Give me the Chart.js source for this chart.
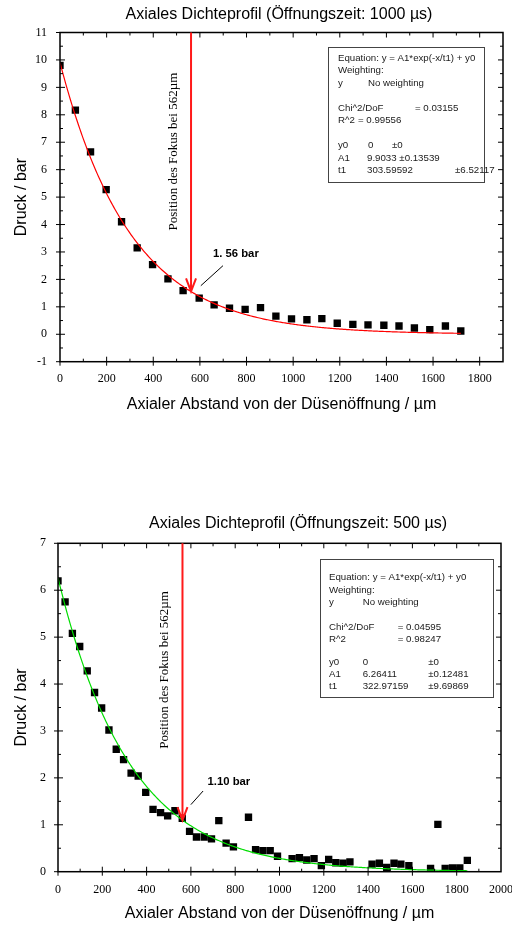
<!DOCTYPE html>
<html>
<head>
<meta charset="utf-8">
<script src="https://cdn.jsdelivr.net/npm/chart.js@4.4.1/dist/chart.umd.min.js"></script>
<style>
  html, body { margin: 0; padding: 0; background: #fff; }
  #wrap { position: relative; width: 512px; height: 927px; overflow: hidden; }
  #c1 { position: absolute; left: 0; top: 0; }
  #c2 { position: absolute; left: 0; top: 470px; }
</style>
</head>
<body>
<div id="wrap">
  <canvas id="c1" width="512" height="470"></canvas>
  <canvas id="c2" width="512" height="457"></canvas>
</div>
<script>
// ---- measured pressure profile, 1000 µs opening time ----
const distance1000 = [0, 66, 131, 198, 264, 331, 397, 463, 528, 597, 661, 727, 794, 860,
  926, 993, 1059, 1123, 1189, 1256, 1321, 1389, 1454, 1520, 1586, 1653, 1719];
const pressure1000 = [9.80, 8.17, 6.65, 5.27, 4.10, 3.15, 2.54, 2.02, 1.59, 1.32, 1.07, 0.95, 0.91, 0.97,
  0.66, 0.56, 0.53, 0.57, 0.40, 0.36, 0.34, 0.33, 0.30, 0.23, 0.17, 0.30, 0.12];

// ---- measured pressure profile, 500 µs opening time ----
const distance500 = [0, 32, 65, 98, 132, 165, 197, 230, 263, 296, 330, 362, 396, 429, 463, 495, 528,
  561, 594, 625, 660, 693, 726, 759, 792, 860, 892, 925, 958, 991, 1057, 1090, 1123, 1156, 1189,
  1222, 1254, 1287, 1318, 1418, 1451, 1484, 1517, 1548, 1584, 1682, 1715, 1748, 1781, 1814, 1848];
const pressure500 = [6.20, 5.75, 5.08, 4.80, 4.28, 3.82, 3.49, 3.02, 2.61, 2.39, 2.10, 2.04, 1.69,
  1.33, 1.26, 1.19, 1.30, 1.14, 0.86, 0.74, 0.74, 0.70, 1.09, 0.61, 0.53, 1.16, 0.47, 0.45, 0.45,
  0.33, 0.28, 0.30, 0.25, 0.28, 0.13, 0.26, 0.19, 0.18, 0.21, 0.16, 0.18, 0.09, 0.18, 0.16, 0.13,
  0.07, 1.01, 0.07, 0.08, 0.08, 0.24];

// ---- exponential fit results: [y0, A1, t1] and their errors ----
const fit1000 = [0, 9.9033, 303.59592];
const fitErr1000 = [0, 0.13539, 6.52117];
const fitStats1000 = [0.03155, 0.99556];   // Chi^2/DoF, R^2
const fit500 = [0, 6.26411, 322.97159];
const fitErr500 = [0, 0.12481, 9.69869];
const fitStats500 = [0.04595, 0.98247];

// ---- focus marker ----
const focusPosition = 562;                 // µm
const focusPressure = [1.56, 1.10];        // bar, 1000 µs / 500 µs
const focusLabels = ['1. 56 bar', '1.10 bar'];

// ---- tick labels ----
const xTicks1000 = [0, 200, 400, 600, 800, 1000, 1200, 1400, 1600, 1800];
const yTicks1000 = [-1, 0, 1, 2, 3, 4, 5, 6, 7, 8, 9, 10, 11];
const xTicks500 = [0, 200, 400, 600, 800, 1000, 1200, 1400, 1600, 1800, 2000];
const yTicks500 = [0, 1, 2, 3, 4, 5, 6, 7];

const SANS = '"Liberation Sans", Arial, Helvetica, sans-serif';
const SERIF = '"Liberation Serif", "Times New Roman", serif';

function fitCurve(p, xEnd) {
  const pts = [];
  for (let x = 0; x <= xEnd; x += 5) pts.push({ x, y: p[1] * Math.exp(-x / p[2]) + p[0] });
  pts.push({ x: xEnd, y: p[1] * Math.exp(-xEnd / p[2]) + p[0] });
  return pts;
}

// Rows of the fit report; "joined" puts value and error into one run of text
function fitBoxRows(p, err, stats, joined) {
  const pe = i => joined ? [String(p[i]) + ' \u00b1' + err[i]] : [String(p[i]), '\u00b1' + err[i]];
  return [
    ['Equation: y = A1*exp(-x/t1) + y0'],
    ['Weighting:'],
    ['y', 'No weighting'],
    null,
    ['Chi^2/DoF', '= ' + stats[0]],
    ['R^2', '= ' + stats[1]],
    null,
    ['y0', String(p[0]), '\u00b1' + err[0]],
    ['A1'].concat(pe(1)),
    ['t1', String(p[2]), '\u00b1' + err[2]]
  ];
}

// Frame, ticks, titles, fit box and focus annotation
const decor = {
  id: 'decor',
  afterDraw(chart, args, o) {
    const ctx = chart.ctx, a = chart.chartArea;
    const xs = chart.scales.x, ys = chart.scales.y;
    ctx.save();

    // ticks (majors cross the left/bottom axes, minors point inward)
    ctx.strokeStyle = '#000';
    ctx.lineWidth = 1;
    ctx.beginPath();
    const mIn = 5, mOut = 4, nIn = 3;
    for (let v = xs.min; v <= xs.max + 1e-9; v += o.xStep / 2) {
      if (v <= xs.min || v >= xs.max) continue;
      const px = xs.getPixelForValue(v);
      const major = Math.abs(v / o.xStep - Math.round(v / o.xStep)) < 1e-6;
      const len = major ? mIn : nIn;
      ctx.moveTo(px, a.bottom + (major ? mOut : 0)); ctx.lineTo(px, a.bottom - len);
      ctx.moveTo(px, a.top); ctx.lineTo(px, a.top + len);
    }
    ctx.moveTo(a.left, a.bottom); ctx.lineTo(a.left, a.bottom + mOut);
    for (let v = ys.min; v <= ys.max + 1e-9; v += 0.5) {
      const py = ys.getPixelForValue(v);
      const major = Math.abs(v - Math.round(v)) < 1e-6;
      const len = major ? mIn : nIn;
      if (v > ys.min && v < ys.max) {
        ctx.moveTo(a.left, py); ctx.lineTo(a.left + len, py);
        ctx.moveTo(a.right, py); ctx.lineTo(a.right - len, py);
      }
      if (major) { ctx.moveTo(a.left - mOut, py); ctx.lineTo(a.left, py); }
    }
    ctx.stroke();

    // frame
    ctx.lineWidth = 1.5;
    ctx.strokeRect(a.left, a.top, a.right - a.left, a.bottom - a.top);

    // chart title and axis titles
    ctx.fillStyle = '#000';
    ctx.font = '16px ' + SANS;
    ctx.textAlign = 'center';
    ctx.textBaseline = 'middle';
    ctx.fillText(o.title, o.titleX, o.titleY);
    ctx.fillText('Axialer Abstand von der D\u00fcsen\u00f6ffnung / \u00b5m', (a.left + a.right) / 2, o.xTitleY);
    ctx.save();
    ctx.translate(22, (a.top + a.bottom) / 2);
    ctx.rotate(-Math.PI / 2);
    ctx.fillText('Druck / bar', 0, 0);
    ctx.restore();

    // fit result box
    const b = o.box;
    ctx.strokeStyle = '#444';
    ctx.lineWidth = 1;
    ctx.strokeRect(b.left + 0.5, b.top + 0.5, b.right - b.left, b.bottom - b.top);
    ctx.fillStyle = '#1a1a1a';
    ctx.font = '9.7px ' + SANS;
    ctx.textAlign = 'left';
    ctx.textBaseline = 'middle';
    o.rows.forEach((row, i) => {
      if (!row) return;
      const y = b.rowY[i];
      row.forEach((txt, j) => {
        ctx.fillText(txt, b.cols[i][j], y);
      });
    });

    // focus arrow
    const fx = xs.getPixelForValue(focusPosition);
    const tipY = ys.getPixelForValue(o.tip);
    ctx.strokeStyle = '#ff1a1a';
    ctx.lineWidth = 2;
    ctx.beginPath();
    ctx.moveTo(fx, a.top);
    ctx.lineTo(fx, tipY - 1);
    ctx.moveTo(fx - 5, tipY - 13);
    ctx.lineTo(fx, tipY);
    ctx.lineTo(fx + 5, tipY - 13);
    ctx.stroke();

    // vertical caption
    ctx.fillStyle = '#000';
    ctx.font = '13px ' + SERIF;
    ctx.textAlign = 'center';
    ctx.save();
    ctx.translate(xs.getPixelForValue(o.capX), ys.getPixelForValue(o.capY));
    ctx.rotate(-Math.PI / 2);
    ctx.fillText('Position des Fokus bei 562\u00b5m', 0, 0);
    ctx.restore();

    // value label with leader line
    ctx.font = 'bold 11.3px ' + SANS;
    ctx.textAlign = 'left';
    ctx.fillText(o.label, xs.getPixelForValue(o.labelX), ys.getPixelForValue(o.labelY));
    ctx.strokeStyle = '#000';
    ctx.lineWidth = 1;
    ctx.beginPath();
    ctx.moveTo(xs.getPixelForValue(o.lead[0]), ys.getPixelForValue(o.lead[1]));
    ctx.lineTo(xs.getPixelForValue(o.lead[2]), ys.getPixelForValue(o.lead[3]));
    ctx.stroke();

    ctx.restore();
  }
};

function makeChart(id, c) {
  const pts = c.xs.map((x, i) => ({ x, y: c.ys[i] }));
  return new Chart(document.getElementById(id), {
    type: 'scatter',
    data: {
      datasets: [
        { data: c.curve, showLine: true, pointRadius: 0, borderColor: c.curveColor,
          borderWidth: 1.2, fill: false, order: 0 },
        { data: pts, pointStyle: 'rect', pointRadius: 5.2, backgroundColor: '#000',
          borderWidth: 0, order: 1 }
      ]
    },
    options: {
      responsive: false,
      animation: false,
      devicePixelRatio: 1,
      layout: { padding: c.padding },
      plugins: {
        legend: { display: false },
        tooltip: { enabled: false },
        title: { display: false },
        decor: c.decor
      },
      scales: {
        x: {
          type: 'linear', min: c.xMin, max: c.xMax,
          grid: { display: false, drawTicks: false },
          border: { display: false },
          ticks: { font: { family: SERIF, size: 12 }, color: '#000', padding: c.xPad,
                   autoSkip: false, maxRotation: 0, callback: v => String(v) },
          afterBuildTicks: s => { s.ticks = c.xTicks.map(v => ({ value: v })); },
          afterFit: s => { s.height = c.xHeight; s.paddingLeft = 0; s.paddingRight = 0; }
        },
        y: {
          type: 'linear', min: c.yMin, max: c.yMax,
          grid: { display: false, drawTicks: false },
          border: { display: false },
          ticks: { font: { family: SERIF, size: 12 }, color: '#000', padding: c.yPad,
                   autoSkip: false, callback: v => String(v) },
          afterBuildTicks: s => { s.ticks = c.yTicks.map(v => ({ value: v })); },
          afterFit: s => { s.width = c.yWidth; s.paddingTop = 0; s.paddingBottom = 0; }
        }
      }
    },
    plugins: [decor]
  });
}

makeChart('c1', {
  xs: distance1000, ys: pressure1000,
  curve: fitCurve(fit1000, distance1000[distance1000.length - 1]),
  curveColor: '#ff0000',
  xMin: 0, xMax: 1900, yMin: -1, yMax: 11,
  xTicks: xTicks1000, yTicks: yTicks1000,
  padding: { left: 0, right: 9, top: 32.5, bottom: 0 },
  xHeight: 108.3, yWidth: 60, xPad: 9.5, yPad: 13,
  decor: {
    title: 'Axiales Dichteprofil (\u00d6ffnungszeit: 1000 \u00b5s)', titleX: 279, titleY: 15,
    xTitleY: 405, xStep: 200,
    rows: fitBoxRows(fit1000, fitErr1000, fitStats1000, true),
    box: {
      left: 328, right: 484, top: 47, bottom: 182,
      rowY: [58, 70.5, 83, 0, 108, 120.5, 0, 145.5, 158, 170.5],
      cols: [[338], [338], [338, 368], [], [338, 415], [338, 358], [], [338, 368, 392], [338, 367], [338, 367, 455]]
    },
    tip: focusPressure[0],
    capX: 489, capY: 6.66,
    label: focusLabels[0], labelX: 656, labelY: 2.94,
    lead: [699, 2.5, 604, 1.77]
  }
});

makeChart('c2', {
  xs: distance500, ys: pressure500,
  curve: fitCurve(fit500, distance500[distance500.length - 1]),
  curveColor: '#00dd00',
  xMin: 0, xMax: 2000, yMin: 0, yMax: 7,
  xTicks: xTicks500, yTicks: yTicks500,
  padding: { left: 0, right: 11, top: 73.3, bottom: 0 },
  xHeight: 55.3, yWidth: 58, xPad: 10.5, yPad: 12,
  decor: {
    title: 'Axiales Dichteprofil (\u00d6ffnungszeit: 500 \u00b5s)', titleX: 298, titleY: 54,
    xTitleY: 443.3, xStep: 200,
    rows: fitBoxRows(fit500, fitErr500, fitStats500, false),
    box: {
      left: 320, right: 493, top: 89, bottom: 227,
      rowY: [107, 120, 132.5, 0, 157, 169.5, 0, 192, 204.5, 216.5],
      cols: [[329], [329], [329, 362.7], [], [329, 397.7], [329, 397.7], [], [329, 362.7, 428.3], [329, 362.7, 428.3], [329, 362.7, 428.3]]
    },
    tip: focusPressure[1],
    capX: 483, capY: 4.30,
    label: focusLabels[1], labelX: 675, labelY: 1.92,
    lead: [655, 1.72, 600, 1.43]
  }
});
</script>
</body>
</html>
